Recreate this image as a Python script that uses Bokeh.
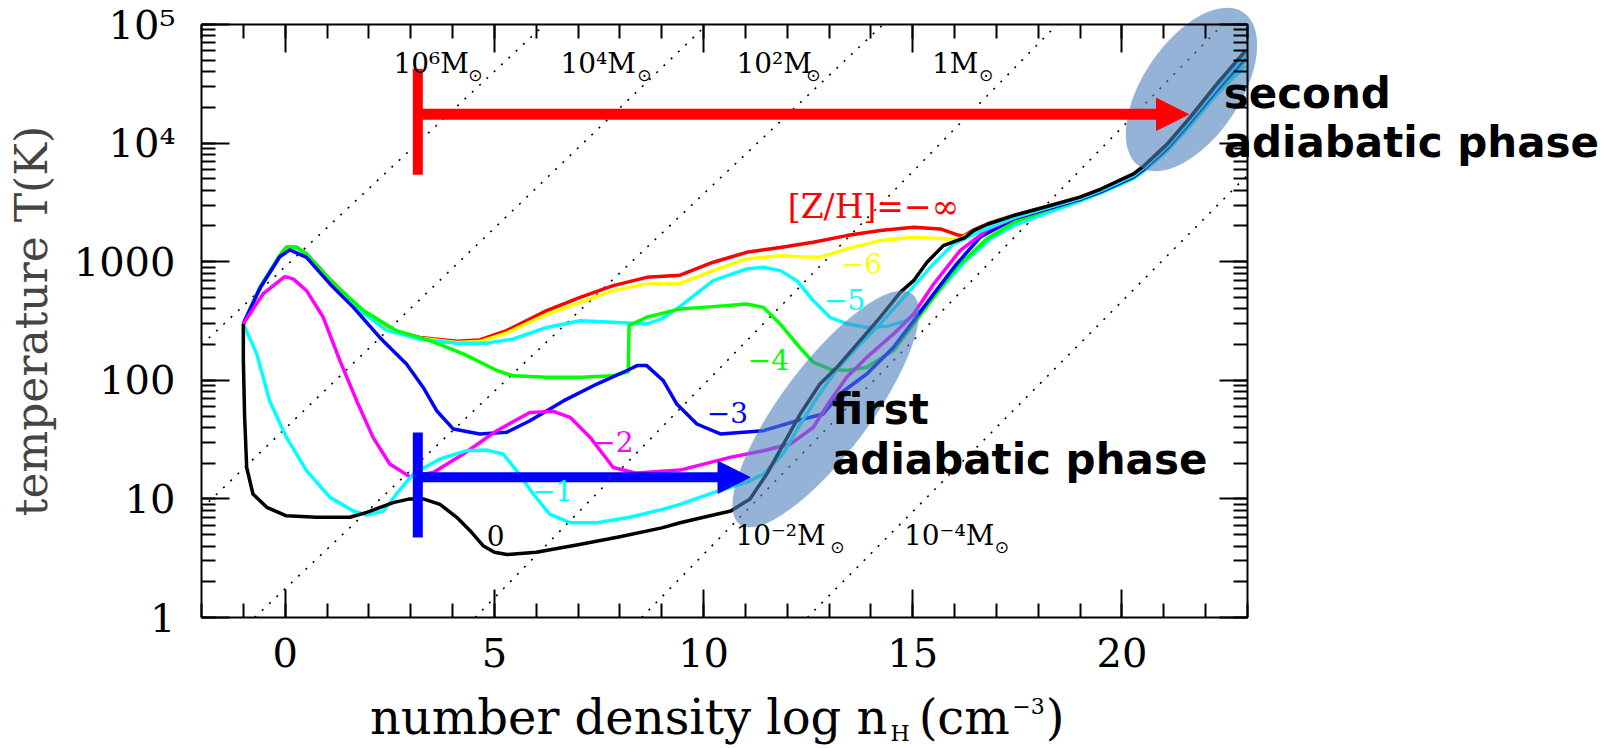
from bokeh.plotting import figure
from bokeh.models import (Label, Arrow, NormalHead, LinearAxis, LogAxis,
                          SingleIntervalTicker, LogTicker, CustomJSTickFormatter)
from bokeh.embed import file_html
from bokeh.resources import INLINE

# ---------------------------------------------------------------------------
# Thermal evolution tracks: log n_H (cm^-3) and temperature (K) per metallicity
# ---------------------------------------------------------------------------
n_zinf = [-1.0, -0.6, -0.13, 0.03, 0.27, 0.51, 1.07, 1.71, 2.42, 3.22, 4.10, 4.65, 5.29,
          6.25, 7.05, 7.84, 8.64, 9.44, 10.23, 11.03, 11.83, 12.62, 13.42, 14.22, 15.02,
          15.66, 16.05, 16.2, 16.45, 16.8, 17.41, 18.25, 19.0, 19.5, 20.28, 20.52, 21.08,
          21.63, 22.27, 22.95]
T_zinf = [300, 610, 1120, 1320, 1320, 1160, 716, 412, 271, 230, 213, 219, 262,
          387, 500, 628, 738, 770, 990, 1200, 1320, 1460, 1660, 1830, 1950,
          1890, 1690, 1640, 1850, 2100, 2450, 2950, 3500, 4100, 5500, 6400, 9800,
          16500, 31600, 60000]

n_m6 = [-1.0, -0.6, -0.13, 0.03, 0.27, 0.51, 1.07, 1.71, 2.42, 3.22, 4.10, 4.65, 5.29,
        6.25, 7.05, 7.84, 8.64, 9.44, 10.23, 11.03, 11.83, 12.3, 12.78, 13.42, 14.22,
        15.02, 15.82, 16.1, 16.45, 16.8, 17.41, 18.25, 19.0, 19.5, 20.28, 20.52, 21.08,
        21.63, 22.27, 22.95]
T_m6 = [300, 605, 1110, 1310, 1310, 1150, 710, 408, 268, 226, 208, 212, 250,
        360, 454, 570, 650, 655, 841, 1056, 1125, 1100, 1089, 1282, 1506,
        1607, 1557, 1540, 1800, 2080, 2440, 2940, 3490, 4080, 5480, 6380, 9750,
        16400, 31400, 59500]

n_m5 = [-1.0, -0.6, -0.13, 0.03, 0.27, 0.51, 1.07, 1.71, 2.42, 3.22, 4.10, 4.8, 5.45,
        6.25, 7.05, 7.84, 8.64, 9.0, 9.44, 10.23, 11.03, 11.43, 11.83, 12.23, 12.62,
        13.02, 13.42, 13.9, 14.38, 14.86, 15.3, 15.75, 16.3, 16.9, 17.41, 18.25, 19.0,
        19.5, 20.28, 20.52, 21.08, 21.63, 22.27, 22.95]
T_m5 = [300, 605, 1110, 1310, 1310, 1150, 705, 405, 265, 222, 205, 205, 223,
        279, 318, 308, 299, 330, 420, 692, 869, 897, 841, 692, 470,
        340, 300, 279, 285, 320, 420, 640, 1050, 1600, 2015, 2600, 3250,
        3800, 5050, 5800, 8600, 14000, 26000, 45000]

n_m4 = [-1.0, -0.6, -0.13, 0.03, 0.27, 0.51, 1.07, 1.87, 2.66, 3.46, 4.26, 5.06, 5.45,
        6.25, 7.05, 7.84, 8.2, 8.22, 8.64, 9.44, 10.23, 11.03, 11.43, 11.83, 12.23,
        12.62, 13.02, 13.42, 13.9, 14.54, 15.02, 15.5, 16.05, 16.77, 17.41, 18.25,
        19.0, 19.5, 20.28, 20.52, 21.08, 21.63, 22.27, 22.95]
T_m4 = [300, 610, 1130, 1330, 1330, 1165, 700, 387, 262, 216, 167, 121, 109,
        106, 106, 109, 118, 289, 340, 400, 418, 440, 412, 299, 202,
        142, 124, 121, 129, 178, 299, 500, 897, 1557, 2148, 2750,
        3320, 3880, 5150, 5950, 8900, 14800, 27500, 50000]

n_m3 = [-1.0, -0.6, -0.13, 0.11, 0.51, 1.07, 1.63, 2.26, 2.9, 3.3, 3.62, 4.02, 4.65,
        5.29, 5.85, 6.65, 7.45, 8.17, 8.41, 8.64, 9.04, 9.36, 9.84, 10.4, 11.43,
        12.23, 12.86, 13.26, 13.9, 14.54, 15.02, 15.5, 16.05, 16.61, 17.41, 18.25,
        19.0, 19.5, 20.28, 20.52, 21.08, 21.63, 22.27, 22.95]
T_m3 = [300, 600, 1100, 1257, 1089, 649, 412, 230, 137, 87, 55.4, 38.8, 35.3,
        36.4, 45.6, 67, 93, 121, 133, 133, 99, 63, 42.8, 35.3, 37.6,
        45.6, 52, 77, 113, 190, 318, 535, 958, 1607, 2296, 2800,
        3350, 3900, 5200, 6000, 9000, 15000, 28000, 52000]

n_m2 = [-1.0, -0.53, -0.01, 0.19, 0.51, 0.91, 1.31, 1.71, 2.1, 2.5, 2.98, 3.54, 4.26,
        5.06, 5.85, 6.41, 6.81, 7.29, 7.84, 8.4, 9.44, 10.63, 11.43, 12.07, 12.62,
        13.02, 13.42, 13.9, 14.54, 15.02, 15.5, 16.13, 16.77, 17.41, 18.25, 19.0,
        19.5, 20.28, 20.52, 21.08, 21.63, 22.27, 22.95]
T_m2 = [300, 535, 748, 716, 570, 340, 146, 67, 33, 19.7, 15.4, 16.7, 23.9,
        37.6, 53.6, 54.7, 48.7, 33, 18.4, 16.5, 17.5, 22.4, 25.5, 29, 40,
        67, 106, 156, 246, 362, 649, 1240, 1850, 2330, 2880, 3420,
        4000, 5350, 6200, 9400, 15700, 29500, 56000]

n_m1 = [-1.0, -0.68, -0.37, 0.03, 0.51, 1.07, 1.63, 1.95, 2.35, 2.66, 3.06, 3.70, 4.34,
        4.82, 5.21, 5.53, 5.93, 6.32, 6.81, 7.45, 8.24, 9.04, 9.44, 10.23, 11.03,
        11.43, 11.9, 12.3, 12.75, 13.2, 13.7, 14.22, 14.86, 15.42, 15.96, 16.61,
        17.41, 18.25, 19.0, 19.5, 20.28, 20.52, 21.08, 21.63, 22.27, 22.95]
T_m1 = [300, 167, 67, 33, 17.3, 10.3, 7.9, 7.3, 7.9, 11, 16.2, 21.7, 25.5,
        25.8, 23.9, 17.3, 11, 7.45, 6.3, 6.3, 7.0, 8.2, 9.0, 11.3, 13.8,
        16.2, 24, 42, 75, 125, 195, 299, 535, 897, 1400, 1800,
        2350, 2880, 3420, 4000, 5350, 6200, 9400, 15700, 29500, 56000]

n_z0 = [-1.0, -1.0, -0.97, -0.92, -0.77, -0.44, 0.03, 0.75, 1.55, 1.95, 2.58, 2.98, 3.30,
        3.70, 4.10, 4.42, 4.74, 5.0, 5.3, 6.0, 7.0, 8.0, 9.0, 9.44, 10.0, 10.65, 11.11,
        11.51, 11.91, 12.31, 12.78, 13.19, 13.74, 14.22, 14.70, 15.02, 15.34, 15.73,
        16.05, 16.25, 16.45, 16.8, 17.41, 18.25, 19.0, 19.5, 20.28, 20.52, 21.08,
        21.63, 22.27, 22.95]
T_z0 = [300, 150, 50, 18.4, 11, 8.5, 7.2, 7.0, 7.0, 7.7, 9.3, 10, 10,
        9.0, 7.0, 5.4, 4.0, 3.55, 3.4, 3.55, 4.1, 4.8, 5.7, 6.3, 7.0, 7.9, 10,
        16.2, 29, 52, 93, 129, 216, 340, 552, 692, 988, 1367,
        1506, 1600, 1830, 2080, 2450, 2950, 3500, 4100, 5500, 6400, 9800,
        16500, 31600, 60000]

# track labels ([Z/H]) with their anchor points (log n_H, T)
track_names = ["[Z/H]=−∞", "−6", "−5", "−4", "−3", "−2", "−1", "0"]
track_colors = ["#ff0000", "#ffff00", "#00ffff", "#00ff00", "#0000ff", "#ff00ff", "#00ffff", "#000000"]
name_x = [14.06, 13.77, 13.37, 11.55, 10.57, 7.835, 6.39, 5.03]
name_T = [2897, 970, 477, 149, 53.2, 30.3, 11.7, 4.89]

# constant Jeans-mass lines: end points (log n_H, T) where they meet the box edges
jeans_n = [(-2.0, 6.2), (-2.0, 10.08), (-0.73, 14.29), (4.54, 18.45), (8.52, 22.41), (12.48, 23.0)]
jeans_T = [(199, 1e5), (8.26, 1e5), (1, 1e5), (1, 1e5), (1, 1e5), (1, 5370)]

# Jeans-mass labels
mass_texts = ["10⁶M", "10⁴M", "10²M", "1M", "10⁻²M", "10⁻⁴M"]
mass_x = [2.588, 6.58, 10.785, 15.46, 10.76, 14.79]
mass_T = [46900, 46900, 46900, 46900, 4.886, 4.886]
mass_sun_T = [37500, 37500, 37500, 37500, 3.93, 3.93]
mass_sun_dx = [82, 84, 77, 54, 102, 98]

tracks = [(n_zinf, T_zinf), (n_m6, T_m6), (n_m5, T_m5), (n_m4, T_m4),
          (n_m3, T_m3), (n_m2, T_m2), (n_m1, T_m1), (n_z0, T_z0)]

# ---------------------------------------------------------------------------
# Canvas geometry: the axes box occupies [BOX_L, BOX_R] x [BOX_T, BOX_B] pixels;
# the frame spans the whole canvas so that annotations may sit outside the box.
W, H = 1614, 748
BOX_L, BOX_R, BOX_T, BOX_B = 201, 1247, 24, 617
X0, X1 = -2.0, 23.0          # log n_H limits of the box
LY0, LY1 = 0.0, 5.0          # log T limits of the box
ppx = (BOX_R - BOX_L) / (X1 - X0)
ppy = (BOX_B - BOX_T) / (LY1 - LY0)
x_range = (X0 - BOX_L / ppx, X1 + (W - BOX_R) / ppx)
y_range = (10 ** (LY0 - (H - BOX_B) / ppy), 10 ** (LY1 + BOX_T / ppy))

SERIF = "DejaVu Serif"
SANS = "DejaVu Sans"

p = figure(width=W, height=H, x_range=x_range, y_range=y_range,
           y_axis_type="log", output_backend="svg", toolbar_location=None,
           min_border=0, background_fill_color="white", border_fill_color="white")
p.grid.visible = False
p.outline_line_color = None


def style_axis(ax, labels=True):
    ax.axis_line_color = "black"
    ax.axis_line_width = 2
    ax.major_tick_line_color = "black"
    ax.minor_tick_line_color = "black"
    ax.major_tick_line_width = 2
    ax.minor_tick_line_width = 2
    ax.major_tick_in = 28
    ax.major_tick_out = 0
    ax.minor_tick_in = 14
    ax.minor_tick_out = 0
    ax.major_label_text_font = SERIF
    ax.major_label_text_font_size = "40px"
    ax.major_label_text_color = "black"
    if not labels:
        ax.formatter = CustomJSTickFormatter(code="return ''")


xa = p.xaxis[0]
xa.ticker = SingleIntervalTicker(interval=5, num_minor_ticks=5)
xa.fixed_location = 10 ** LY0
xa.bounds = (X0, X1)
style_axis(xa)
xa.major_label_standoff = 20

ya = p.yaxis[0]
ya.ticker = LogTicker(num_minor_ticks=10)
ya.fixed_location = X0
ya.bounds = (10 ** LY0, 10 ** LY1)
style_axis(ya)
ya.major_label_standoff = 26
ya.major_label_overrides = {1: "1", 10: "10", 100: "100", 1000: "1000",
                            10000: "10⁴", 100000: "10⁵"}
ya.axis_label = "temperature T(K)"
ya.axis_label_text_font = SERIF
ya.axis_label_text_font_size = "44px"
ya.axis_label_text_font_style = "normal"
ya.axis_label_standoff = 14

top_ax = LinearAxis(ticker=SingleIntervalTicker(interval=5, num_minor_ticks=5),
                    fixed_location=10 ** LY1, bounds=(X0, X1))
style_axis(top_ax, labels=False)
p.add_layout(top_ax, "above")
right_ax = LogAxis(ticker=LogTicker(num_minor_ticks=10), fixed_location=X1,
                   bounds=(10 ** LY0, 10 ** LY1))
style_axis(right_ax, labels=False)
p.add_layout(right_ax, "right")

# dotted constant Jeans-mass lines
for nx, tv in zip(jeans_n, jeans_T):
    p.line(list(nx), list(tv), line_color="black", line_width=1.6, line_dash="2 8")

# metallicity tracks
for (nx, tv), col in zip(tracks, track_colors):
    p.line(nx, tv, line_color=col, line_width=3.5, line_join="round")

# shaded adiabatic regions
p.ellipse(x=[12.92], y=[57.3], width=[288], height=[89], angle=[53.2],
          angle_units="deg", width_units="screen", height_units="screen",
          fill_color="#4f81bd", fill_alpha=0.6, line_color=None)
p.ellipse(x=[21.66], y=[28300], width=[186], height=[97], angle=[56],
          angle_units="deg", width_units="screen", height_units="screen",
          fill_color="#4f81bd", fill_alpha=0.6, line_color=None)

# density-range markers
p.segment(x0=[3.17], y0=[4.73], x1=[3.17], y1=[36.3], line_color="#0000ff", line_width=10)
p.segment(x0=[3.17], y0=[5420], x1=[3.17], y1=[42300], line_color="#ff0000", line_width=10)
p.add_layout(Arrow(end=NormalHead(size=32, fill_color="#0000ff", line_color="#0000ff"),
                   x_start=3.17, y_start=15.2, x_end=11.11, y_end=15.2,
                   line_color="#0000ff", line_width=10))
p.add_layout(Arrow(end=NormalHead(size=32, fill_color="#ff0000", line_color="#ff0000"),
                   x_start=3.17, y_start=17470, x_end=21.59, y_end=17470,
                   line_color="#ff0000", line_width=11))


def add_text(text, x, y, size, color="black", font=SERIF, align="left",
             style="normal", x_offset=0):
    # every label is anchored at the vertical middle of its text box
    p.add_layout(Label(x=x, y=y, text=text, text_font=font,
                       text_font_size=f"{size}px", text_color=color,
                       text_align=align, text_baseline="middle",
                       text_font_style=style, x_offset=x_offset))


# track labels
for name, col, lx, lT in zip(track_names, track_colors, name_x, name_T):
    add_text(name, lx, lT, 33 if name.startswith("[") else 28, color=col, align="center")

# Jeans-mass labels
for txt, mx, mT, sT, dx in zip(mass_texts, mass_x, mass_T, mass_sun_T, mass_sun_dx):
    add_text(txt, mx, mT, 28)
    add_text("⊙", mx, sT, 17, font=SANS, align="center", x_offset=dx)

# x-axis title with sub/superscripts
add_text("number density log n", 14.395, 0.145, 48, align="right")
add_text("H", 14.467, 0.1043, 22)
add_text("(cm", 15.14, 0.145, 48)
add_text("−3", 17.38, 0.1787, 22)
add_text(")", 18.18, 0.145, 48)

# phase annotations
add_text("first", 13.07, 56.95, 42, font=SANS, style="bold")
add_text("adiabatic phase", 13.07, 21.58, 42, font=SANS, style="bold")
add_text("second", 22.43, 26450, 42, font=SANS, style="bold")
add_text("adiabatic phase", 22.43, 10020, 42, font=SANS, style="bold")

open("out.html", "w").write(file_html(p, INLINE))
